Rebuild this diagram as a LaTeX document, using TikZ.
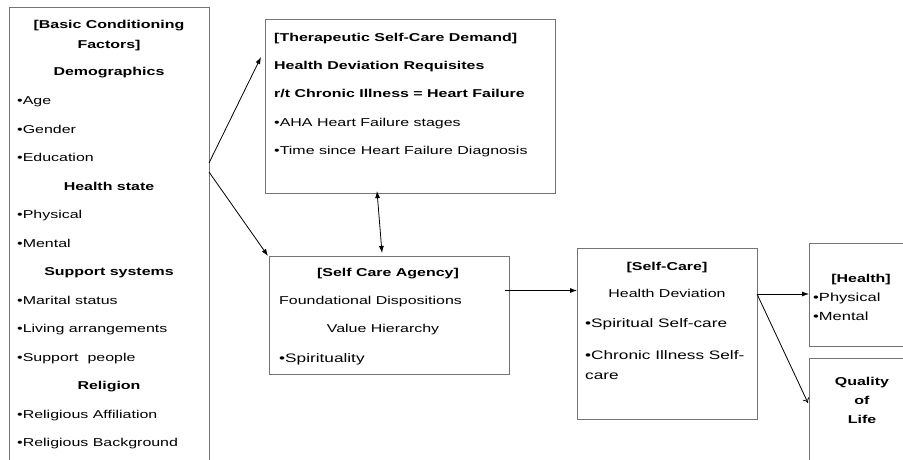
\documentclass[tikz,border=0pt]{standalone}
\usepackage{fontspec}
\setmainfont{Liberation Sans}[FakeStretch=1.4]
\usetikzlibrary{arrows.meta}
\begin{document}
\begin{tikzpicture}[x=1pt,y=-1pt,
  box/.style={draw=black!55,line width=0.9pt,rectangle,inner sep=0pt},
  txt/.style={inner sep=0pt,font=\fontsize{11.4}{13}\selectfont},
  txtb/.style={txt,font=\fontsize{11.4}{13}\selectfont\bfseries},
  txtl/.style={inner sep=0pt,font=\fontsize{12.3}{20}\selectfont},
  arr/.style={line width=0.8pt,-{Latex[length=7pt,width=5pt]}},
  arro/.style={line width=0.8pt,-{To[length=5pt,width=7pt]}}]
\useasboundingbox (0,0) rectangle (903,460);
\clip (0,0) rectangle (903,460);
\fill[white] (0,0) rectangle (903,460);
% boxes
\node[box,minimum width=200,minimum height=463] (lb) at (109,238.5) {};
\node[box,minimum width=290,minimum height=174] (tsd) at (410,106) {};
\node[box,minimum width=240,minimum height=118] (sca) at (389,315) {};
\node[box,minimum width=180,minimum height=171] (sc) at (667,333.5) {};
\node[box,minimum width=111,minimum height=103] (hl) at (864.5,294.5) {};
\node[box,minimum width=111,minimum height=122] (qol) at (864.5,419) {};
% left box text
\node[txtb,anchor=base] (l1) at (109,29) {[Basic Conditioning};
\node[txtb,anchor=base] (l2) at (109,49) {Factors]};
\node[txtb,anchor=base] (l3) at (109,76) {Demographics};
\node[txt,anchor=base west] (l4) at (17,104.5) {•Age};
\node[txt,anchor=base west] (l5) at (17,133) {•Gender};
\node[txt,anchor=base west] (l6) at (17,161.5) {•Education};
\node[txtb,anchor=base] (l7) at (109,190) {Health state};
\node[txt,anchor=base west] (l8) at (17,218.5) {•Physical};
\node[txt,anchor=base west] (l9) at (17,247) {•Mental};
\node[txtb,anchor=base] (l10) at (109,275.5) {Support systems};
\node[txt,anchor=base west] (l11) at (17,304) {•Marital status};
\node[txt,anchor=base west] (l12) at (17,332.5) {•Living arrangements};
\node[txt,anchor=base west] (l13) at (17,361) {•Support\ \ people};
\node[txtb,anchor=base] (l14) at (109,389.5) {Religion};
\node[txt,anchor=base west] (l15) at (17,418) {•Religious Affiliation};
\node[txt,anchor=base west] (l16) at (17,446.5) {•Religious Background};
% therapeutic box
\node[txtb,anchor=base west] (t1) at (274,42) {[Therapeutic Self-Care Demand]};
\node[txtb,anchor=base west] (t2) at (274,69.5) {Health Deviation Requisites};
\node[txtb,anchor=base west] (t3) at (274,97.5) {r/t Chronic Illness = Heart Failure};
\node[txt,anchor=base west] (t4) at (274,126) {•AHA Heart Failure stages};
\node[txt,anchor=base west] (t5) at (274,154.5) {•Time since Heart Failure Diagnosis};
% agency box
\node[txtb,anchor=base] (a1) at (388,276) {[Self Care Agency]};
\node[txt,anchor=base west] (a2) at (279,304) {Foundational Dispositions};
\node[txt,anchor=base] (a3) at (383,332) {Value Hierarchy};
\node[txtl,anchor=base west] (a4) at (279,362.5) {•Spirituality};
% self-care box
\node[txtb,anchor=base] (s1) at (667,270) {[Self-Care]};
\node[txt,anchor=base] (s2) at (667,297) {Health Deviation};
\node[txtl,anchor=base west] (s3) at (585,327.5) {•Spiritual Self-care};
\node[txtl,anchor=base west,align=left] (s4) at (585,379.5) {•Chronic Illness Self-\\care};
% health box
\node[txtb,anchor=base] (h1) at (861,282) {[Health]};
\node[txtl,anchor=base west,align=left,font=\fontsize{11.8}{19}\selectfont] (h2) at (813,320) {•Physical\\•Mental};
% quality of life
\node[txtb,anchor=base,align=center,font=\fontsize{11.4}{19}\selectfont\bfseries] (q1) at (862,423) {Quality\\of\\Life};
% connector end points
\coordinate (c1) at (209,163);
\coordinate (c2) at (209,172);
\coordinate (c1e) at (261,57);
\coordinate (c2e) at (268,256);
\coordinate (d1) at (377,191);
\coordinate (d2) at (382,253);
\coordinate (e1) at (505,290.5);
\coordinate (e2) at (577,290.5);
\coordinate (f1) at (757,294);
\coordinate (f2) at (809,294);
\coordinate (g2) at (808,403);
% connectors
\draw[arr] (c1) -- (c1e);
\draw[arr] (c2) -- (c2e);
\draw[arr,{Latex[length=7pt,width=5pt]}-{Latex[length=7pt,width=5pt]}] (d2) -- (d1);
\draw[arr] (e1) -- (e2);
\draw[arr] (f1) -- (f2);
\draw[arro] (f1) -- (g2);
\end{tikzpicture}
\end{document}
